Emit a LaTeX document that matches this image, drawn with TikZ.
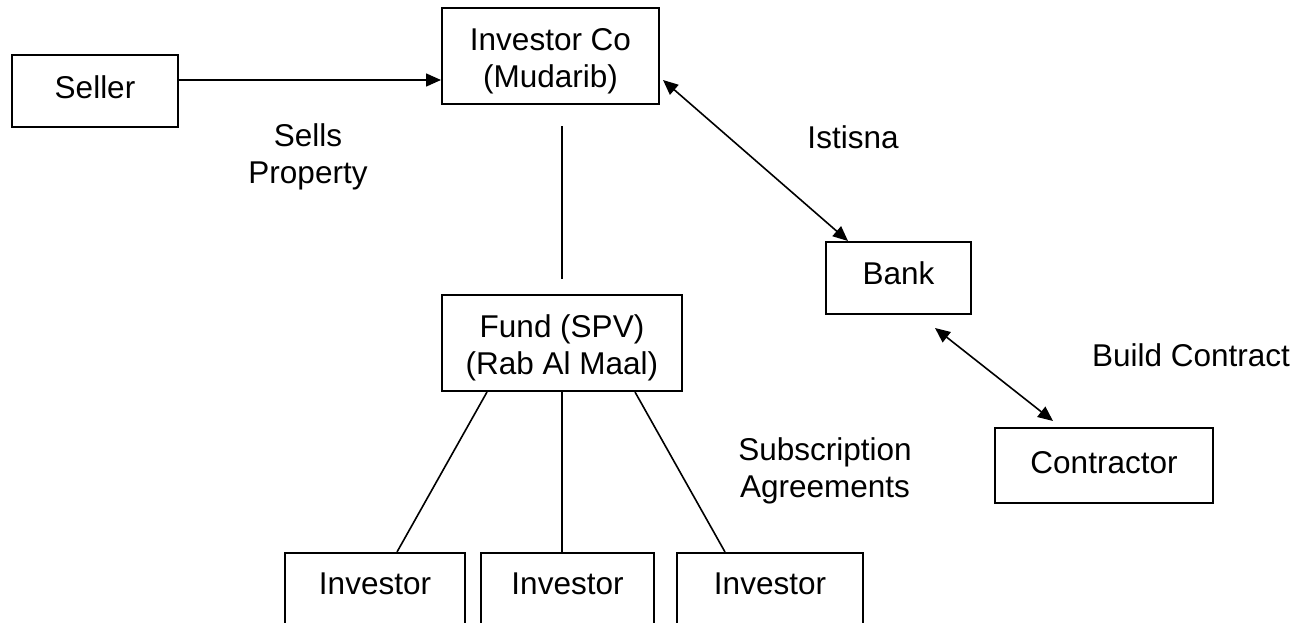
\documentclass[tikz,border=0pt]{standalone}
\usepackage{fontspec}
\setmainfont{Liberation Sans}
\usetikzlibrary{arrows.meta,calc}
\begin{document}
\begin{tikzpicture}[x=1pt,y=-1pt,
  txt/.style={font=\fontsize{31.5}{37}\selectfont},
  box/.style={txt,draw,line width=2pt,inner sep=0pt,align=center},
  ibox/.style={txt,draw,line width=2pt,inner sep=0pt,text height=41pt,text depth=60pt,anchor=base},
  lbl/.style={txt,inner sep=0pt,align=center},
  conn/.style={line width=1.6pt},
  arr/.style={conn,-{Triangle[length=15pt,width=13pt]}},
  darr/.style={conn,{Triangle[length=15pt,width=13pt]}-{Triangle[length=15pt,width=13pt]}}]
\useasboundingbox (0,0) rectangle (1297,623);
\clip (0,0) rectangle (1297,623);
\fill[white] (0,0) rectangle (1297,623);

\node[box,minimum width=166pt,minimum height=72pt] (seller) at (95,91) {Seller\rule[-8pt]{0pt}{8pt}};
\node[box,minimum width=217pt,minimum height=96pt] (invco) at (550.5,56) {\rule{0pt}{33pt}Investor Co\\(Mudarib)};
\node[box,minimum width=240pt,minimum height=96pt] (fund) at (562,343) {\rule{0pt}{33pt}Fund (SPV)\\(Rab Al Maal)};
\node[box,minimum width=145pt,minimum height=72pt] (bank) at (898.5,278) {Bank\rule[-10pt]{0pt}{10pt}};
\node[box,minimum width=218pt,minimum height=75pt] (contractor) at (1104,465.5) {Contractor\rule[-6pt]{0pt}{6pt}};
\node[ibox,minimum width=180pt] (inv1) at (375,594) {Investor};
\node[ibox,minimum width=173pt] (inv2) at (567.5,594) {Investor};
\node[ibox,minimum width=186pt] (inv3) at (770,594) {Investor};

\draw[arr] ($(seller.east)+(0,-11)$) -- ($(seller.east -| invco.west)+(0,-11)$);
\draw[conn] ($(fund.north)+(0,-15)$) -- ($(fund.north)+(0,-168)$);
\draw[darr] ($(invco.east)+(3,24)$) -- ($(bank.north west)+(23,0)$);
\draw[darr] ($(bank.south west)+(110,13)$) -- ($(contractor.north west)+(59,-6)$);
\draw[conn] ($(fund.south west)+(46,0)$) -- ($(inv1.north west)+(113,0)$);
\draw[conn] (fund.south) -- (fund.south |- inv2.north);
\draw[conn] ($(fund.south east)+(-48,0)$) -- ($(inv3.north west)+(49,0)$);

\node[lbl] (sells) at (308,157) {Sells\\Property};
\node[lbl] (istisna) at (853,137) {Istisna};
\node[lbl] (build) at (1191,355) {Build Contract};
\node[lbl] (subs) at (825,470.5) {Subscription\\Agreements};
\end{tikzpicture}
\end{document}
